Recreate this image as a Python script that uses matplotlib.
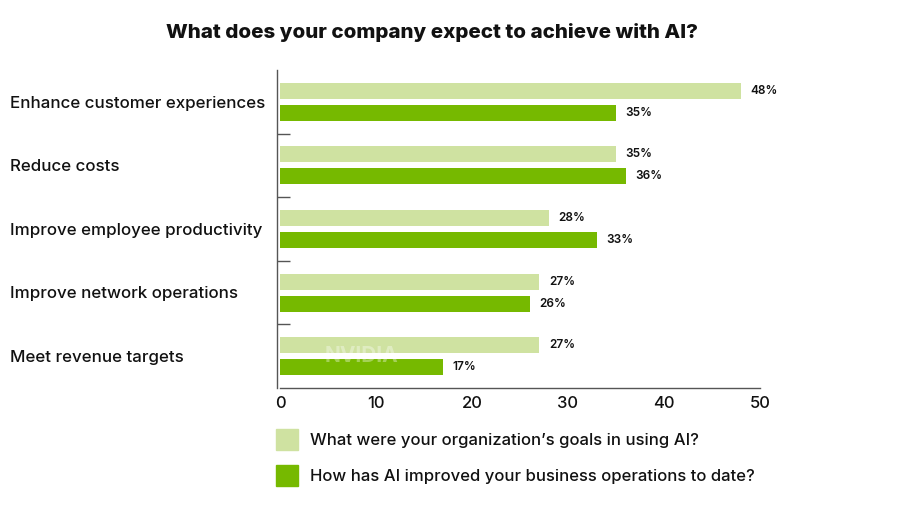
import numpy as np
import matplotlib.pyplot as plt
from matplotlib.patches import Patch
from matplotlib.transforms import blended_transform_factory

categories = ["Enhance customer experiences", "Reduce costs", "Improve employee productivity",
              "Improve network operations", "Meet revenue targets"]
goals = [48, 35, 28, 27, 27]
improved = [35, 36, 33, 26, 17]
series_names = ["What were your organization\u2019s goals in using AI?",
                "How has AI improved your business operations to date?"]
xticks = [0, 10, 20, 30, 40, 50]

light = "#cfe2a1"
dark = "#76b900"
ink = "#111111"

plt.rcParams['font.family'] = ['Inter', 'DejaVu Sans']

fig = plt.figure(figsize=(9.04, 5.18), dpi=100)
ax = fig.add_axes([280/904, 1-388/518, 480/904, 318/518])

y = np.arange(len(categories))
off = 0.173
h = 0.25
ax.barh(y - off, goals, height=h, color=light)
ax.barh(y + off, improved, height=h, color=dark)

for i in range(len(categories)):
    ax.text(goals[i] + 1.0, y[i] - off, f"{goals[i]}%", va='center', ha='left', fontsize=8.5, color=ink, fontweight='semibold')
    ax.text(improved[i] + 1.0, y[i] + off, f"{improved[i]}%", va='center', ha='left', fontsize=8.5, color=ink, fontweight='semibold')

ax.set_xlim(0, 50)
ax.set_ylim(len(categories) - 0.5, -0.5)
ax.set_xticks(xticks)
ax.set_xticklabels([str(t) for t in xticks], fontsize=12, color=ink, fontweight='medium')
ax.tick_params(axis='x', length=0, pad=6)
ax.set_yticks([])
ax.set_yticks(np.arange(0.5, len(categories) - 0.5, 1), minor=True)
ax.tick_params(axis='y', which='minor', direction='in', length=9.5, width=1, color='#555555')
ax.set_yticklabels([], minor=True)

for s in ['top', 'right']:
    ax.spines[s].set_visible(False)
for s in ['left', 'bottom']:
    ax.spines[s].set_color('#555555')
    ax.spines[s].set_linewidth(1)
ax.spines['left'].set_position(('outward', 2))

# category labels, left aligned at the figure edge
tr = blended_transform_factory(fig.transFigure, ax.transData)
for i, c in enumerate(categories):
    ax.text(10/904, y[i] + 0.02, c, transform=tr, ha='left', va='center',
            fontsize=12.2, color=ink, fontweight='medium')

# faint watermark
ax.text(8.5, 4.0, "NVIDIA", fontsize=15, fontweight='bold', color='white', alpha=0.35,
        ha='center', va='center')

fig.text(432/904, 1-32/518, "What does your company expect to achieve with AI?", ha='center', va='center',
         fontsize=14.8, fontweight='heavy', color=ink)

handles = [Patch(color=light), Patch(color=dark)]
fig.legend(handles, series_names, loc='upper left', bbox_to_anchor=(261/904, 1-414/518), frameon=False,
           prop={'size': 12, 'weight': 'medium'}, handlelength=1.3, handleheight=1.6,
           labelspacing=0.85, handletextpad=0.75, labelcolor=ink)

fig.savefig("out.png", dpi=100)
